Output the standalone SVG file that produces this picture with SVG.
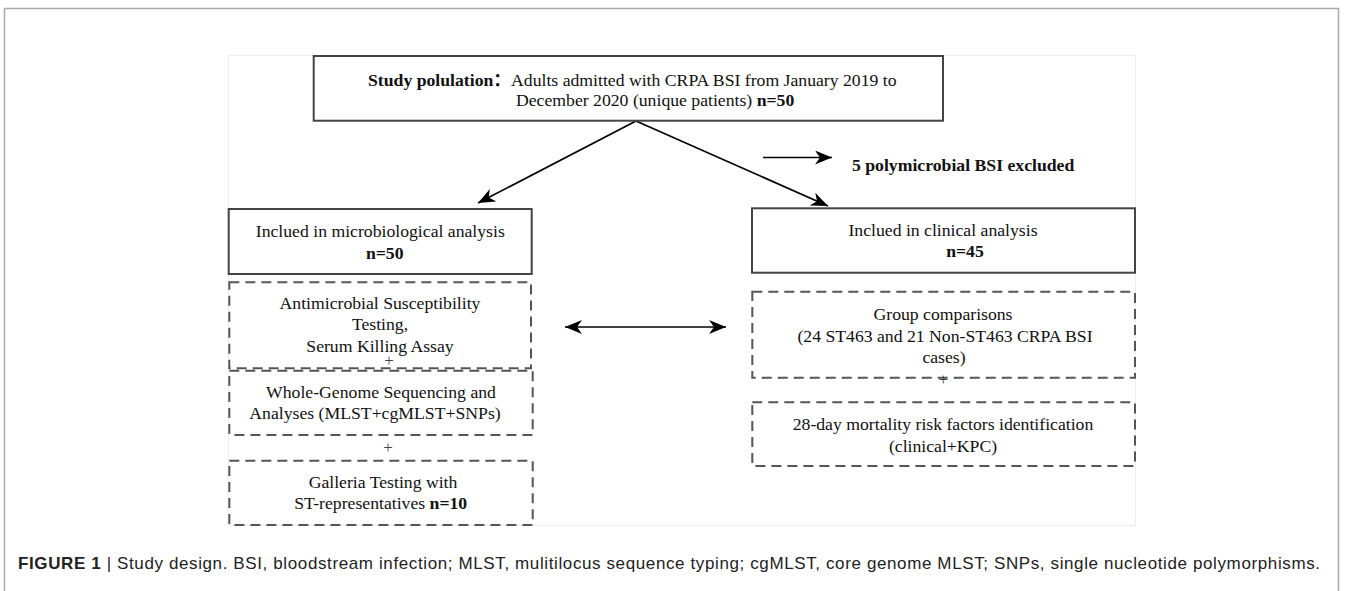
<svg xmlns="http://www.w3.org/2000/svg" width="1355" height="591" viewBox="0 0 1355 591">
<style>
.t{font-family:"Liberation Serif","Noto Sans CJK SC",serif;font-size:17.7px;fill:#111}
.c{text-anchor:middle}
.b{font-weight:bold}
.solid{fill:#fff;stroke:#444;stroke-width:2}
.dash{fill:none;stroke:#555;stroke-width:2;stroke-dasharray:10 6}
.conn{stroke:#000;stroke-width:1.7;fill:none}
.plus{font-family:"Liberation Serif",serif;font-size:17px;fill:#444;text-anchor:middle}
.cap{font-family:"Liberation Sans",Arial,sans-serif;font-size:17px;fill:#222}
</style>
<defs>
<marker id="ah" markerUnits="userSpaceOnUse" markerWidth="18" markerHeight="14" refX="17" refY="7" orient="auto-start-reverse" viewBox="0 0 18 14">
<path d="M0,0 L17,7 L0,14 L5,7 z" fill="#000"/>
</marker>
</defs>
<rect x="4.5" y="8.5" width="1334" height="600" fill="none" stroke="#aaa" stroke-width="1.5"/>
<rect x="228.5" y="55.5" width="907" height="470" fill="#fff" stroke="#eee" stroke-width="1"/>

<g id="connectors">
<line class="conn" x1="636" y1="121" x2="478" y2="203" marker-end="url(#ah)"/>
<line class="conn" x1="636" y1="121" x2="828" y2="206" marker-end="url(#ah)"/>
<line class="conn" x1="763" y1="157.5" x2="832" y2="157.5" marker-end="url(#ah)"/>
<line class="conn" x1="565" y1="327" x2="726" y2="327" marker-start="url(#ah)" marker-end="url(#ah)"/>
</g>

<g id="study-population">
<rect class="solid" x="313.7" y="56" width="629.3" height="64.7"/>
<text class="t" x="368" y="86"><tspan class="b">Study polulation：</tspan>Adults admitted with CRPA BSI from January 2019 to</text>
<text class="t" x="516" y="106">December 2020 (unique patients) <tspan class="b">n=50</tspan></text>
</g>

<g id="excluded">
<text class="t b" x="852" y="171">5 polymicrobial BSI excluded</text>
</g>

<g id="micro-analysis">
<rect class="solid" x="228.7" y="209" width="303" height="65"/>
<text class="t c" x="380.3" y="237">Inclued in microbiological analysis</text>
<text class="t c b" x="384.7" y="259">n=50</text>
</g>

<g id="clinical-analysis">
<rect class="solid" x="752" y="208.3" width="383" height="64.4"/>
<text class="t c" x="943" y="236">Inclued in clinical analysis</text>
<text class="t c b" x="965" y="257">n=45</text>
</g>

<g id="ast">
<rect class="dash" x="229.3" y="282.3" width="301.7" height="86"/>
<text class="t c" x="380" y="308.5">Antimicrobial Susceptibility</text>
<text class="t c" x="380" y="330">Testing,</text>
<text class="t c" x="380" y="351.5">Serum Killing Assay</text>
<text class="plus" x="389" y="366">+</text>
</g>

<g id="wgs">
<rect class="dash" x="229.3" y="370.7" width="303.4" height="64.3"/>
<text class="t c" x="381" y="398.3">Whole-Genome Sequencing and</text>
<text class="t c" x="375" y="419.3">Analyses (MLST+cgMLST+SNPs)</text>
<text class="plus" x="388" y="452.5">+</text>
</g>

<g id="galleria">
<rect class="dash" x="229.3" y="460.7" width="303.4" height="64.3"/>
<text class="t c" x="383" y="487.7">Galleria Testing with</text>
<text class="t c" x="380.7" y="509.3">ST-representatives <tspan class="b">n=10</tspan></text>
</g>

<g id="group-comparisons">
<rect class="dash" x="752.3" y="291.7" width="382.7" height="86"/>
<text class="t c" x="943" y="320">Group comparisons</text>
<text class="t c" x="945" y="341.7">(24 ST463 and 21 Non-ST463 CRPA BSI</text>
<text class="t c" x="944" y="362.7">cases)</text>
<text class="plus" x="943.3" y="384.5">+</text>
</g>

<g id="mortality">
<rect class="dash" x="752.3" y="402.3" width="382.7" height="63.7"/>
<text class="t c" x="943" y="430">28-day mortality risk factors identification</text>
<text class="t c" x="943" y="451.7">(clinical+KPC)</text>
</g>

<text class="cap" x="18" y="569" textLength="1302" lengthAdjust="spacing"><tspan font-weight="bold">FIGURE 1</tspan> | Study design. BSI, bloodstream infection; MLST, mulitilocus sequence typing; cgMLST, core genome MLST; SNPs, single nucleotide polymorphisms.</text>
</svg>
